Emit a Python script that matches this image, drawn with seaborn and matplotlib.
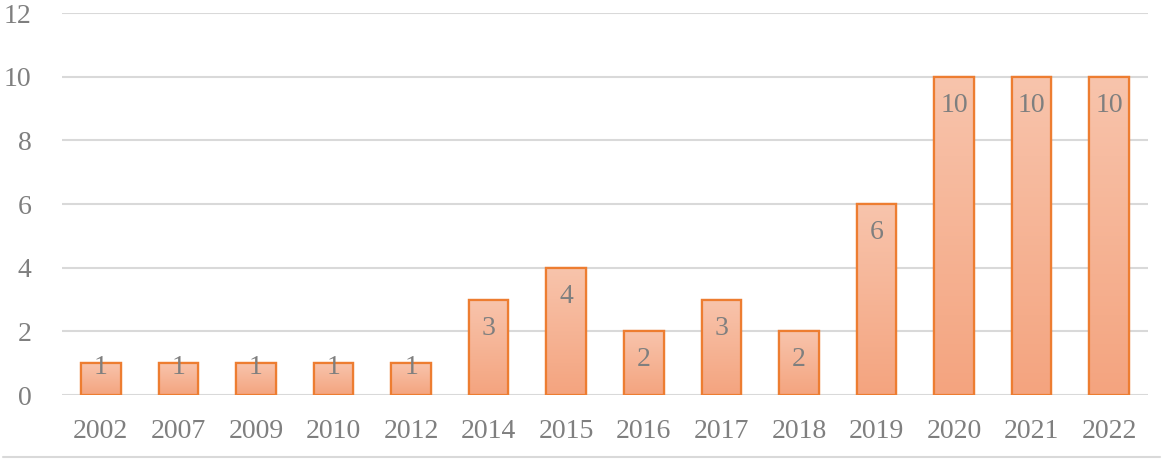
import numpy as np
import pandas as pd
import matplotlib
matplotlib.use("Agg")
import matplotlib.pyplot as plt
from matplotlib.lines import Line2D
from matplotlib.colors import LinearSegmentedColormap
import seaborn as sns

# data
years = ['2002', '2007', '2009', '2010', '2012', '2014', '2015',
         '2016', '2017', '2018', '2019', '2020', '2021', '2022']
counts = [1, 1, 1, 1, 1, 3, 4, 2, 3, 2, 6, 10, 10, 10]
y_ticks = [0, 2, 4, 6, 8, 10, 12]

df = pd.DataFrame({'year': years, 'count': counts})

sns.set_style('white')
plt.rcParams['font.family'] = ['Liberation Serif', 'DejaVu Serif']

fig = plt.figure(figsize=(11.69, 4.61), dpi=100)
ax = fig.add_axes([62 / 1169, 1 - 395 / 461, (1148 - 62) / 1169, (395 - 13) / 461])

sns.barplot(data=df, x='year', y='count', ax=ax, width=0.51,
            color='#F6B08F', edgecolor='#ED7D31', linewidth=1.6, zorder=3)

# gradient fill inside each bar: light at top, a bit darker at bottom
grad = LinearSegmentedColormap.from_list('g', ['#F4A47F', '#F8C4AC'])
for p in ax.patches:
    x0, y0 = p.get_x(), p.get_y()
    w, h = p.get_width(), p.get_height()
    img = ax.imshow(np.linspace(0, 1, 100).reshape(-1, 1), cmap=grad,
                    extent=[x0, x0 + w, y0, y0 + h], origin='lower',
                    aspect='auto', zorder=3.5)
    img.set_clip_path(p)
    edge = plt.Rectangle((x0, y0), w, h, fill=False, edgecolor='#ED7D31',
                         linewidth=1.6, zorder=4)
    ax.add_patch(edge)

# value labels near the inside top of each bar
for i, v in enumerate(counts):
    ax.text(i, max(v - 0.9, 0.85), str(v), ha='center', va='center',
            fontsize=20, color='#7F7F7F', zorder=5)

ax.set_ylim(0, 12)
ax.set_xlim(-0.5, len(years) - 0.5)
ax.set_yticks(y_ticks)
ax.yaxis.grid(True, color='#D9D9D9', linewidth=1.5, zorder=0)
ax.set_axisbelow(True)
for s in ax.spines.values():
    s.set_visible(False)
ax.tick_params(axis='both', length=0, labelsize=20, colors='#7F7F7F')
ax.tick_params(axis='y', pad=22)
ax.tick_params(axis='x', pad=17)
ax.set_xlabel('')
ax.set_ylabel('')

fig.add_artist(Line2D([3 / 1169, 1160 / 1169], [1 - 457 / 461] * 2,
                      color='#D9D9D9', linewidth=1.5))

fig.savefig('out.png', dpi=100)
